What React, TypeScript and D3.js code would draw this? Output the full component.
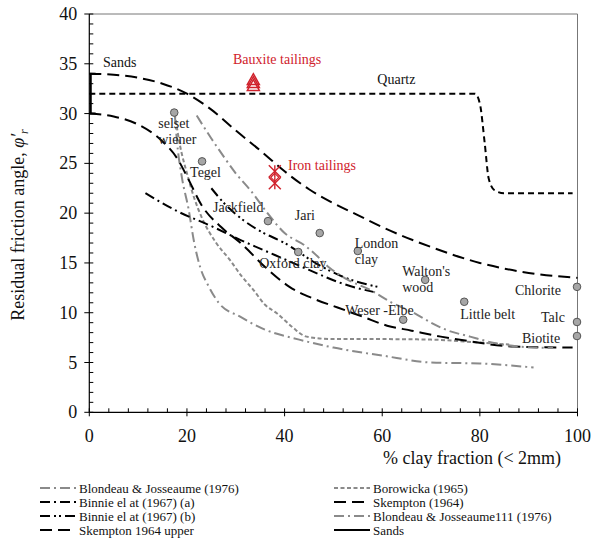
import { scaleLinear, line, curveMonotoneX, curveLinear } from "d3"

// clay fraction (%) and residual friction angle (deg)
const skemptonUpperX = [0, 5, 10, 15, 20, 25, 30, 35, 40, 45, 50, 55, 60, 70, 80, 90, 100]
const skemptonUpperY = [34, 33.9, 33.6, 33, 32, 30.4, 28.3, 26.3, 24.2, 22.4, 21, 19.8, 18.6, 16.6, 15, 14, 13.5]
const skemptonX = [0, 5, 10, 15, 18, 20, 23, 27, 31, 36, 41, 46, 51, 56, 61, 66, 72, 77, 87, 99]
const skemptonY = [30, 29.7, 28.9, 27.2, 25.5, 23.7, 20.8, 18.6, 17, 14.6, 12.6, 11.4, 10.5, 9.6, 8.7, 8.2, 7.6, 7.2, 6.6, 6.5]
const quartzX = [0, 79, 80, 81, 81.8, 83, 85, 99]
const quartzY = [32, 32, 31, 27, 23.5, 22.3, 22, 22]
const binnieAX = [11.5, 18, 25, 31, 38, 45, 52, 59]
const binnieAY = [22, 20.2, 18.7, 17.3, 15.8, 14.3, 12.9, 12]
const binnieBX = [25, 28, 31, 35, 40, 47, 52, 59]
const binnieBY = [22.5, 20.8, 19.5, 18.2, 17, 14.8, 13.6, 12.6]
const blondeauX = [17.5, 18, 19, 20.3, 21.5, 22.7, 24.5, 26.5, 30.9, 36, 43, 50, 60, 70, 80, 91]
const blondeauY = [30, 27, 23.5, 20.5, 17, 14.6, 12.6, 11, 9.6, 8.3, 7.3, 6.5, 5.7, 5, 4.9, 4.5]
const blondeau111X = [22, 25, 27.5, 30, 33, 36.5, 40, 44, 46, 49, 53, 57.5, 62, 66.4, 70, 73, 78, 83.5, 88, 95]
const blondeau111Y = [29.8, 27.5, 25.7, 24, 22.3, 20, 18, 16.8, 16, 14.6, 13.3, 12.3, 11, 10, 9, 8.3, 7.6, 6.9, 6.6, 6.45]
const borowickaX = [17.5, 18.5, 20, 21.5, 23, 26, 28.8, 31, 33.6, 36, 38.4, 41.5, 44.5, 50, 60, 70, 80, 86]
const borowickaY = [30, 27, 24, 21.5, 19.6, 17, 15.3, 13.8, 12.3, 10.8, 9.95, 8.6, 7.6, 7.35, 7.35, 7.3, 7, 6.8]
const sandsX = [1.3, 0.3, 0.3, 1.3]
const sandsY = [34, 34, 30, 30]

const soilNames = ["selset\nwiener", "Tegel", "Jackfield", "Jari", "Oxford clay", "London\nclay", "Walton's\nwood", "Weser -Elbe", "Little belt", "Chlorite", "Talc", "Biotite"]
const soilX = [17.4, 23.1, 36.6, 47.2, 42.8, 55, 68.8, 64.3, 76.8, 99.9, 99.9, 99.9]
const soilY = [30.1, 25.2, 19.2, 18, 16.1, 16.2, 13.3, 9.3, 11.1, 12.6, 9.07, 7.66]
// label offsets in px [dx, dy]
const soilLabelOff: [number, number][] = [[-16, 15], [-12, 16], [-55, -9], [-25, -13], [-39, 16], [-3, -3], [-23, -4], [-58, -5], [-4, 17], [-62, 8], [-36, 0], [-55, 7]]

const bauxiteX = [33.6, 33.6, 33.6]
const bauxiteY = [32.8, 33.1, 33.4]
const ironX = [38, 38]
const ironY = [24.2, 23.0]

const xTicks = [0, 20, 40, 60, 80, 100]
const yTicks = [0, 5, 10, 15, 20, 25, 30, 35, 40]

const BLACK = "#000"
const GRAY = "#8a8a8a"
const RED = "#d0222c"
const FONT = "Liberation Serif, Times New Roman, serif"

const xScale = scaleLinear().domain([0, 100]).range([89.3, 577.5])
const yScale = scaleLinear().domain([0, 40]).range([412.3, 14])

const pts = (xs: number[], ys: number[]) => xs.map((x, i) => [x, ys[i]] as [number, number])
const smooth = line<[number, number]>().x(d => xScale(d[0])).y(d => yScale(d[1])).curve(curveMonotoneX)
const straight = line<[number, number]>().x(d => xScale(d[0])).y(d => yScale(d[1])).curve(curveLinear)

const series = [
  { name: "Blondeau & Josseaume (1976)", xs: blondeauX, ys: blondeauY, color: GRAY, dash: "10,4,2,4" },
  { name: "Borowicka (1965)", xs: borowickaX, ys: borowickaY, color: GRAY, dash: "4,2.5" },
  { name: "Binnie el at (1967) (a)", xs: binnieAX, ys: binnieAY, color: BLACK, dash: "10,4,2,4" },
  { name: "Skempton (1964)", xs: skemptonX, ys: skemptonY, color: BLACK, dash: "12,6" },
  { name: "Binnie el at (1967) (b)", xs: binnieBX, ys: binnieBY, color: BLACK, dash: "10,4,2,3,2,4" },
  { name: "Blondeau & Josseaume111 (1976)", xs: blondeau111X, ys: blondeau111Y, color: GRAY, dash: "10,4,2,4" },
  { name: "Skempton 1964 upper", xs: skemptonUpperX, ys: skemptonUpperY, color: BLACK, dash: "12,6" },
]

function Triangle({ cx, cy }: { cx: number; cy: number }) {
  const s = 6
  return <path d={`M${cx},${cy - s} L${cx + s},${cy + s * 0.8} L${cx - s},${cy + s * 0.8} Z`} fill="none" stroke={RED} strokeWidth={1.5} />
}

function Star({ cx, cy }: { cx: number; cy: number }) {
  const s = 6
  return (
    <g stroke={RED} strokeWidth={1.4}>
      <line x1={cx - s} y1={cy - s} x2={cx + s} y2={cy + s} />
      <line x1={cx - s} y1={cy + s} x2={cx + s} y2={cy - s} />
      <line x1={cx} y1={cy - s} x2={cx} y2={cy + s} />
    </g>
  )
}

export default function App() {
  const x0 = xScale(0), x1 = xScale(100), y0 = yScale(0), y1 = yScale(40)
  const xMinor = Array.from({ length: 26 }, (_, i) => i * 4)
  const yMinor = Array.from({ length: 41 }, (_, i) => i)
  const legendLeft = [series[0], series[2], series[4], series[6]]
  const legendRight = [series[1], series[3], series[5], { name: "Sands", color: BLACK, dash: "none" }]

  return (
    <svg width={593} height={539} style={{ position: "absolute", left: 0, top: 0, background: "#fff", fontFamily: FONT }}>
      {/* frame */}
      <line x1={x0} y1={y1} x2={x1} y2={y1} stroke="#777" strokeWidth={1} />
      <line x1={x1} y1={y1} x2={x1} y2={y0} stroke="#777" strokeWidth={1} />
      <line x1={x0} y1={y0} x2={x1} y2={y0} stroke={BLACK} strokeWidth={1.2} />
      <line x1={x0} y1={y0} x2={x0} y2={y1} stroke={BLACK} strokeWidth={1.2} />

      {yMinor.map(v => (
        <line key={"ym" + v} x1={v % 5 === 0 ? x0 - 5 : x0} x2={x0 + 4} y1={yScale(v)} y2={yScale(v)} stroke={BLACK} strokeWidth={1} />
      ))}
      {xMinor.map(v => (
        <line key={"xm" + v} x1={xScale(v)} x2={xScale(v)} y1={y0 - 4} y2={v % 20 === 0 ? y0 + 4 : y0} stroke={BLACK} strokeWidth={1} />
      ))}
      {yTicks.map(v => (
        <text key={"yt" + v} x={x0 - 12} y={yScale(v) + 6} textAnchor="end" fontSize={18} fill="#111">{v}</text>
      ))}
      {xTicks.map(v => (
        <text key={"xt" + v} x={xScale(v)} y={y0 + 30} textAnchor="middle" fontSize={18} fill="#111">{v}</text>
      ))}

      <text x={472} y={464} textAnchor="middle" fontSize={18} fill="#111">% clay fraction (&lt; 2mm)</text>
      <text transform={`translate(24,${225}) rotate(-90)`} textAnchor="middle" fontSize={18} fill="#111">
        Residual friction angle,  <tspan fontStyle="italic">φ′</tspan><tspan fontStyle="italic" fontSize={12} dy={4}>r</tspan>
      </text>

      {/* curves */}
      <path d={smooth(pts(quartzX, quartzY)) ?? ""} fill="none" stroke={BLACK} strokeWidth={2} strokeDasharray="6,4" />
      {series.map(s => (
        <path key={s.name} d={smooth(pts(s.xs, s.ys)) ?? ""} fill="none" stroke={s.color} strokeWidth={2} strokeDasharray={s.dash} />
      ))}
      <path d={straight(pts(sandsX, sandsY)) ?? ""} fill="none" stroke={BLACK} strokeWidth={2} />

      <text x={xScale(2.8)} y={yScale(34.7)} fontSize={14} fill="#111">Sands</text>
      <text x={xScale(59)} y={yScale(33)} fontSize={14} fill="#111">Quartz</text>

      {/* soils */}
      {soilNames.map((n, i) => {
        const cx = xScale(soilX[i]), cy = yScale(soilY[i])
        const [dx, dy] = soilLabelOff[i]
        return (
          <g key={n}>
            <circle cx={cx} cy={cy} r={3.8} fill="#a6a6a6" stroke="#555" strokeWidth={1} />
            <text x={cx + dx} y={cy + dy} fontSize={14} fill="#222">
              {n.split("\n").map((t, j) => <tspan key={j} x={cx + dx} dy={j === 0 ? 0 : 16}>{t}</tspan>)}
            </text>
          </g>
        )
      })}

      {bauxiteX.map((v, i) => <Triangle key={"b" + i} cx={xScale(v)} cy={yScale(bauxiteY[i])} />)}
      {ironX.map((v, i) => <Star key={"i" + i} cx={xScale(v)} cy={yScale(ironY[i])} />)}
      <path d={`M${xScale(38)},${yScale(23.6) - 4} l4,4 l-4,4 l-4,-4 Z`} fill="none" stroke={RED} strokeWidth={1.2} />
      <text x={233} y={64} fontSize={14} fill={RED}>Bauxite tailings</text>
      <text x={288} y={170} fontSize={14} fill={RED}>Iron tailings</text>

      {/* legend */}
      {legendLeft.map((s, i) => (
        <g key={"ll" + i}>
          <line x1={40} x2={76} y1={488 + i * 14} y2={488 + i * 14} stroke={s.color} strokeWidth={2} strokeDasharray={s.dash} />
          <text x={79} y={493 + i * 14} fontSize={13} fill="#111">{s.name}</text>
        </g>
      ))}
      {legendRight.map((s, i) => (
        <g key={"lr" + i}>
          <line x1={334} x2={370} y1={488 + i * 14} y2={488 + i * 14} stroke={s.color} strokeWidth={2} strokeDasharray={s.dash} />
          <text x={373} y={493 + i * 14} fontSize={13} fill="#111">{s.name}</text>
        </g>
      ))}
    </svg>
  )
}
